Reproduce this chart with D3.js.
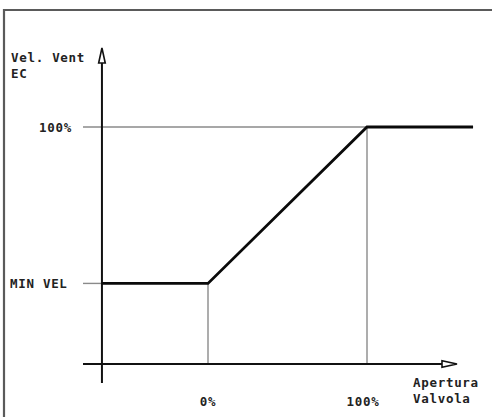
<!DOCTYPE html>
<html><head><meta charset="utf-8">
<script src="https://cdn.jsdelivr.net/npm/d3@7"></script>
<style>
body{margin:0;background:#fff;}
text{font-family:"DejaVu Sans Mono",monospace;font-weight:bold;font-size:12.5px;fill:#222;letter-spacing:0.7px;}
</style></head>
<body>
<script>
// valve opening (%) and fan speed (% of scale) along the control curve
const valveOpening = [-66.7, 0, 100, 166.7];
const fanSpeed = [34, 34, 100, 100];
const xTickValues = [0, 100];
const xTickLabels = ["0%", "100%"];
const yTickValues = [34, 100];
const yTickLabels = ["MIN VEL", "100%"];
const yTitle = ["Vel. Vent", "EC"];
const xTitle = ["Apertura", "Valvola"];

const W = 492, H = 417;
const svg = d3.select("body").append("svg").attr("width", W).attr("height", H);

const x = d3.scaleLinear().domain([0, 100]).range([208, 367]);
const y = d3.scaleLinear().domain([0, 100]).range([364, 127]);
const originX = x(-66.7), originY = y(0);

// frame
svg.append("path").attr("d", `M4,${H} V10 H${W}`).attr("fill", "none")
  .attr("stroke", "#5a5a5a").attr("stroke-width", 2.2);

// gray guides
const g = svg.append("g").attr("stroke", "#8a8a8a").attr("stroke-width", 1.4).attr("fill", "none");
yTickValues.forEach(v => {
  g.append("line").attr("x1", 83).attr("x2", v === 100 ? x(100) : originX).attr("y1", y(v)).attr("y2", y(v));
});
[[0, 34], [100, 100]].forEach(([vx, vy]) => {
  g.append("line").attr("x1", x(vx)).attr("x2", x(vx)).attr("y1", y(vy)).attr("y2", originY);
});

// axes
const ax = svg.append("g").attr("stroke", "#111").attr("stroke-width", 2).attr("fill", "none");
ax.append("line").attr("x1", 83).attr("x2", 450).attr("y1", originY).attr("y2", originY);
ax.append("line").attr("x1", originX).attr("x2", originX).attr("y1", 383).attr("y2", 56);
// arrowheads (open)
svg.append("path").attr("d", `M${originX},48 L${originX + 3.3},63 L${originX - 3.3},63 Z`)
  .attr("fill", "#fff").attr("stroke", "#111").attr("stroke-width", 1.6);
svg.append("path").attr("d", `M457,${originY} L442,${originY - 3.3} L442,${originY + 3.3} Z`)
  .attr("fill", "#fff").attr("stroke", "#111").attr("stroke-width", 1.6);

// control curve
const pts = valveOpening.map((v, i) => [v, fanSpeed[i]]);
svg.append("path").datum(pts)
  .attr("d", d3.line().x(d => x(d[0])).y(d => y(d[1])))
  .attr("fill", "none").attr("stroke", "#0a0a0a").attr("stroke-width", 2.8)
  .attr("stroke-linejoin", "miter");

// y tick labels
svg.append("text").attr("x", 72).attr("y", y(100) + 4.5).attr("text-anchor", "end").text(yTickLabels[1]);
svg.append("text").attr("x", 10).attr("y", y(34) + 4.5).text(yTickLabels[0]);

// x tick labels
xTickValues.forEach((v, i) => {
  svg.append("text").attr("x", x(v) - (v === 100 ? 4 : 0)).attr("y", 406).attr("text-anchor", "middle").text(xTickLabels[i]);
});

// titles
svg.append("text").attr("x", 11).attr("y", 62).text(yTitle[0]);
svg.append("text").attr("x", 11).attr("y", 78).text(yTitle[1]);
svg.append("text").attr("x", 413).attr("y", 387).text(xTitle[0]);
svg.append("text").attr("x", 413).attr("y", 403).text(xTitle[1]);
</script>
</body></html>
